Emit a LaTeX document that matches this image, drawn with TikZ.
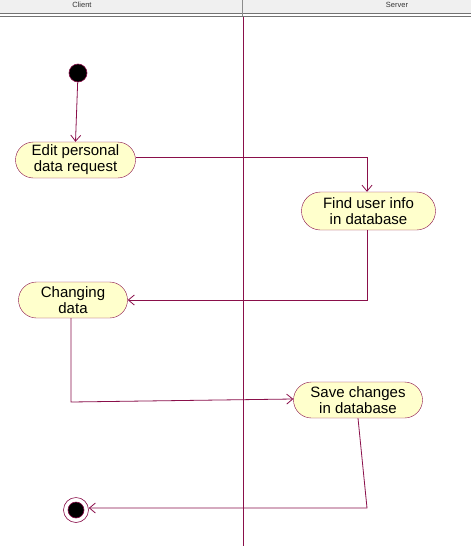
\documentclass[tikz,border=0pt]{standalone}
\usepackage{fontspec}
\setmainfont{Liberation Sans}
\usetikzlibrary{arrows.meta,calc,shapes.misc}
\definecolor{lineC}{HTML}{8A0F4A}
\definecolor{fillC}{HTML}{FFFFCC}
\definecolor{headC}{HTML}{F0F0F0}
\tikzset{
  act/.style={draw=lineC, fill=fillC, rounded rectangle, minimum height=36pt, inner xsep=2pt, inner ysep=1pt, align=center, font=\fontsize{15}{16}\selectfont},
  flow/.style={draw=lineC, line width=0.8pt, -{Straight Barb[length=6pt,width=10pt]}},
  hdr/.style={font=\fontsize{7.5}{8}\selectfont, text=black!80}
}
\begin{document}
\begin{tikzpicture}[x=1pt,y=-1pt]
\useasboundingbox (0,0) rectangle (471,546);
\fill[white] (0,0) rectangle (471,546);
% header
\fill[headC] (0,0) rectangle (471,13.5);
\draw[black!55, line width=1pt] (0,13.5) -- (471,13.5);
\draw[black!55, line width=1pt] (0,16) -- (471,16);
\draw[black!45, line width=0.8pt] (242,0) -- (242,16);
\node[hdr] (hc) at (82,5) {Client};
\node[hdr] (hs) at (397,5) {Server};
% swimlane divider
\draw[lineC, line width=0.8pt] (243,16.5) -- (243,546);
% nodes
\node[circle, fill=black, draw=lineC, line width=0.6pt, minimum size=18pt, inner sep=0pt] (start) at (78,73) {};
\node[act, minimum width=124pt] (edit) at (75.5,160) {Edit personal\\data request};
\node[act, minimum width=138pt, minimum height=38pt] (find) at (368.5,211) {Find user info\\in database};
\node[act, minimum width=113pt] (chg) at (73,300) {Changing\\data};
\node[act, minimum width=133pt] (save) at (358,400) {Save changes\\in database};
\node[circle, draw=lineC, line width=0.6pt, minimum size=25pt, inner sep=0pt] (end) at (76,510) {};
\node[circle, fill=black, draw=lineC, line width=0.6pt, minimum size=16pt, inner sep=0pt] (endin) at (76,510) {};
% flows
\draw[flow] (start) -- (edit.north);
\draw[flow] (edit.east |- 0,157) -- (367,157) -- (find.north -| 367,0);
\draw[flow] (find.south -| 367,0) -- (367,300) -- (chg.east);
\draw[flow] (chg.south -| 71,0) -- (71,402) -- (save.west |- 0,399);
\draw[flow] (save.south) -- (367,508) -- (end.east |- 0,508);
\end{tikzpicture}
\end{document}
